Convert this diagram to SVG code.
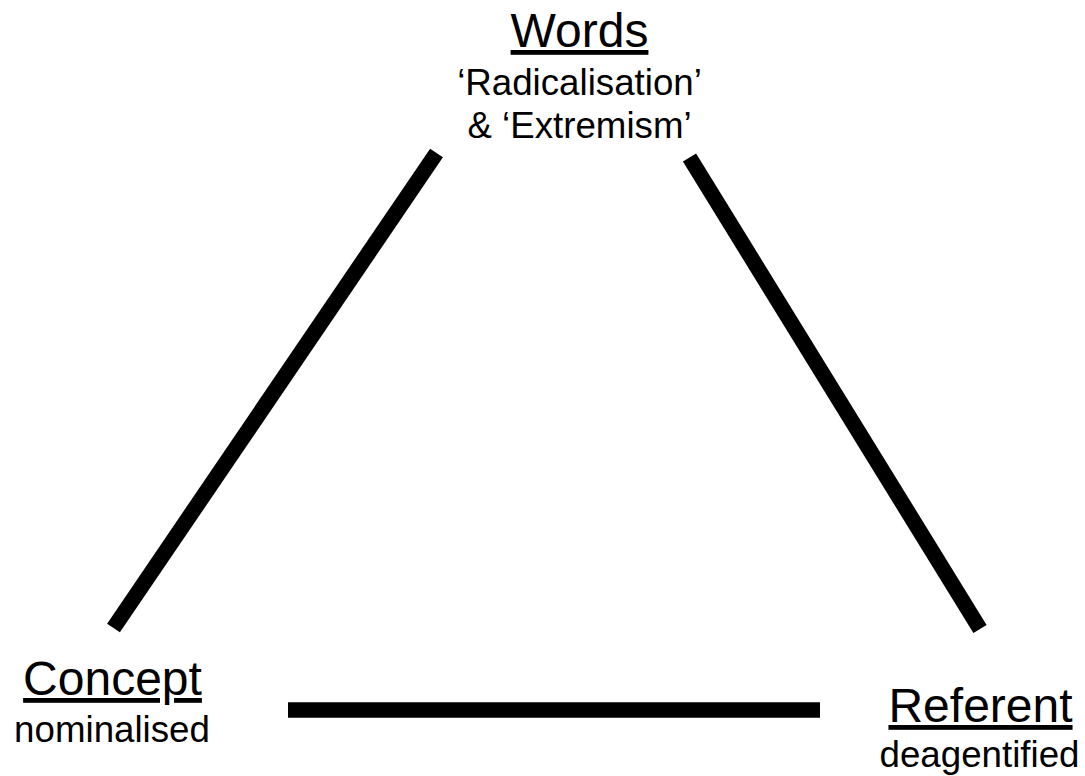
<svg xmlns="http://www.w3.org/2000/svg" width="1085" height="776" viewBox="0 0 1085 776">
<style>
.h{font-family:"Liberation Sans",Arial,sans-serif;font-size:48px;fill:#000;text-anchor:middle;text-decoration:underline}
.s{font-family:"Liberation Sans",Arial,sans-serif;font-size:36.7px;fill:#000;text-anchor:middle}
.c{stroke:#000;stroke-width:15.5;stroke-linecap:butt;fill:none}
</style>
<rect width="1085" height="776" fill="#fff"/>
<g id="connectors">
<line class="c" x1="436.5" y1="153" x2="113.5" y2="628"/>
<line class="c" x1="689.5" y1="157.5" x2="980" y2="629"/>
<line class="c" x1="288" y1="710" x2="820" y2="710" stroke-width="16"/>
</g>
<g id="words">
<text class="h" x="579.5" y="47">Words</text>
<text class="s" x="579.5" y="95">‘Radicalisation’</text>
<text class="s" x="579.5" y="138">&amp; ‘Extremism’</text>
</g>
<g id="concept">
<text class="h" x="112.5" y="695">Concept</text>
<text class="s" x="112" y="742">nominalised</text>
</g>
<g id="referent">
<text class="h" x="980.5" y="722">Referent</text>
<text class="s" x="979.5" y="767">deagentified</text>
</g>
</svg>
